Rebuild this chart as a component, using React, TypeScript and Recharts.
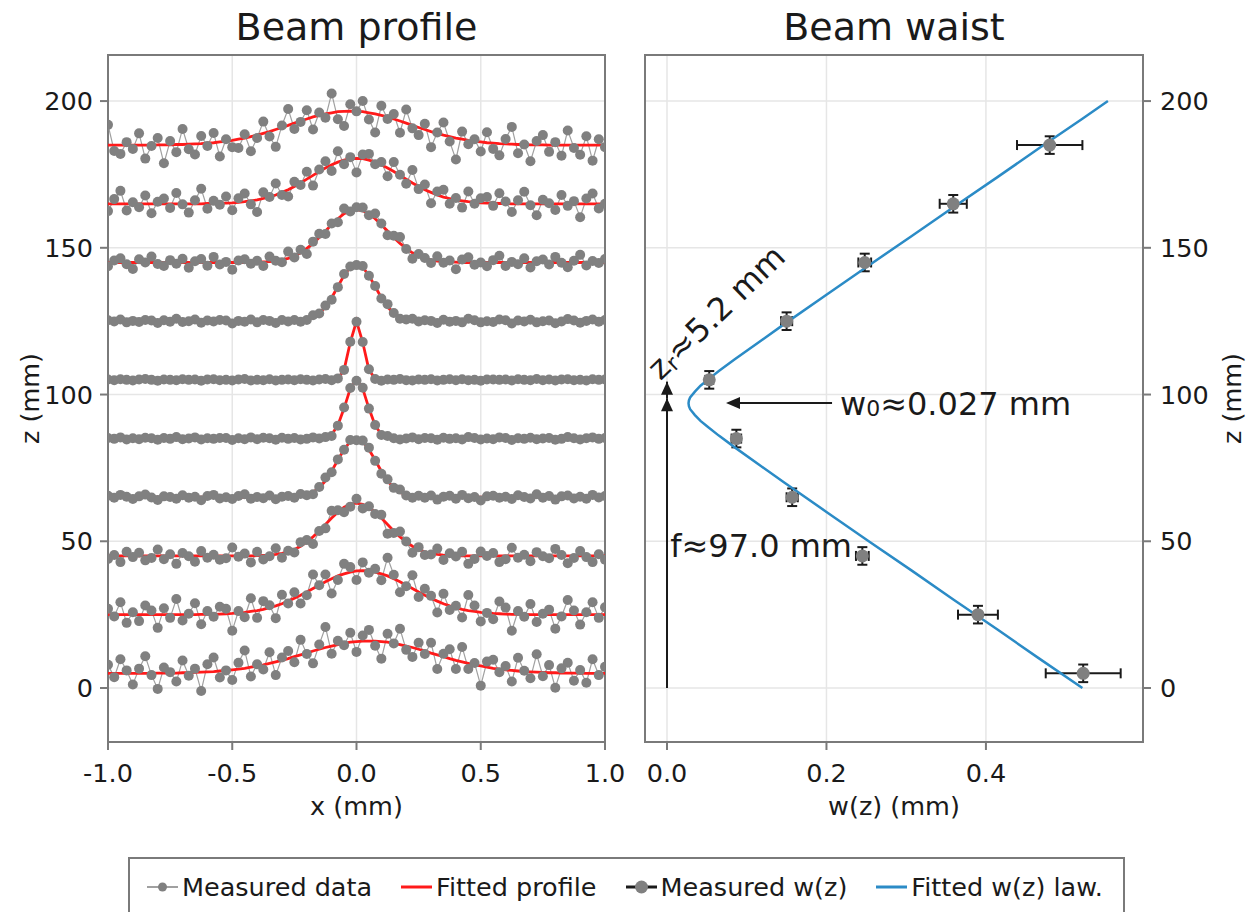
import {
  CartesianGrid,
  ComposedChart,
  ErrorBar,
  Label,
  Line,
  ReferenceArea,
  ReferenceDot,
  ReferenceLine,
  Scatter,
  XAxis,
  YAxis,
} from 'recharts';

const FONT = '"DejaVu Sans", Verdana, sans-serif';
const INK = '#1a1a1a';
const FRAME = '#7a7a7a';
const GRID = '#e6e6e6';
const DOT_GRAY = '#808080';
const LINK_GRAY = '#a0a0a0';
const RED = '#ff1a1a';
const BLUE = '#2b8bc6';
const FS = 25.5;

// ---- left panel: beam profiles ----
const X_GRID = [
  -1, -0.975, -0.95, -0.925, -0.9, -0.875, -0.85, -0.825, -0.8, -0.775,
  -0.75, -0.725, -0.7, -0.675, -0.65, -0.625, -0.6, -0.575, -0.55, -0.525,
  -0.5, -0.475, -0.45, -0.425, -0.4, -0.375, -0.35, -0.325, -0.3, -0.275,
  -0.25, -0.225, -0.2, -0.175, -0.15, -0.125, -0.1, -0.075, -0.05, -0.025,
  0, 0.025, 0.05, 0.075, 0.1, 0.125, 0.15, 0.175, 0.2, 0.225,
  0.25, 0.275, 0.3, 0.325, 0.35, 0.375, 0.4, 0.425, 0.45, 0.475,
  0.5, 0.525, 0.55, 0.575, 0.6, 0.625, 0.65, 0.675, 0.7, 0.725,
  0.75, 0.775, 0.8, 0.825, 0.85, 0.875, 0.9, 0.925, 0.95, 0.975,
  1,
];

const MEAS_Z5 = [
  7.9, 3.7, 9.8, 6.0, 1.2, 6.6, 10.8, 4.4, -0.3, 7.0,
  5.4, 2.2, 9.4, 4.2, 6.6, -1.0, 8.1, 10.4, 3.6, 6.0,
  2.7, 8.6, 12.8, 3.9, 8.1, 6.3, 12.2, 4.4, 10.4, 12.6,
  8.8, 16.4, 11.6, 8.4, 14.8, 20.8, 11.7, 16.1, 14.6, 18.8,
  12.3, 17.9, 19.8, 14.4, 10.0, 18.5, 15.2, 20.2, 13.0, 10.6,
  15.4, 11.6, 15.4, 6.5, 11.7, 13.2, 6.5, 14.0, 6.5, 8.5,
  0.8, 9.0, 9.6, 5.4, 7.5, 2.2, 10.3, 5.9, 3.3, 11.5,
  4.0, 7.8, 0.1, 6.7, 8.6, 2.5, 6.1, 1.8, 9.8, 4.4,
  7.2,
];
const FIT_Z5 = [
  5.0, 5.0, 5.0, 5.0, 5.0, 5.0, 5.0, 5.0, 5.1, 5.1,
  5.1, 5.1, 5.2, 5.2, 5.3, 5.4, 5.5, 5.6, 5.8, 6.0,
  6.2, 6.4, 6.7, 7.1, 7.5, 7.9, 8.4, 8.9, 9.4, 10.0,
  10.7, 11.3, 11.9, 12.6, 13.2, 13.8, 14.3, 14.8, 15.2, 15.6,
  15.8, 16.0, 16.0, 16.0, 15.8, 15.6, 15.2, 14.8, 14.3, 13.8,
  13.2, 12.6, 11.9, 11.3, 10.7, 10.0, 9.4, 8.9, 8.4, 7.9,
  7.5, 7.1, 6.7, 6.4, 6.2, 6.0, 5.8, 5.6, 5.5, 5.4,
  5.3, 5.2, 5.2, 5.1, 5.1, 5.1, 5.1, 5.0, 5.0, 5.0,
  5.0,
];

const MEAS_Z25 = [
  27.0, 24.4, 29.2, 22.2, 25.8, 22.8, 28.1, 26.4, 20.5, 27.2,
  23.9, 30.3, 23.0, 25.3, 28.9, 21.7, 26.2, 24.3, 27.7, 27.0,
  19.5, 26.2, 24.1, 30.6, 23.9, 29.6, 28.2, 23.8, 31.8, 28.8,
  32.6, 28.8, 31.6, 38.7, 35.0, 38.7, 32.2, 36.8, 42.3, 41.2,
  36.8, 42.8, 39.3, 40.6, 36.7, 44.4, 38.6, 32.6, 34.7, 38.4,
  31.0, 33.8, 31.4, 25.7, 32.1, 26.6, 28.0, 24.0, 31.7, 28.1,
  22.7, 25.6, 23.4, 29.5, 27.4, 19.5, 26.2, 24.3, 28.6, 22.5,
  25.3, 26.7, 20.2, 24.4, 30.0, 26.4, 21.6, 25.8, 29.2, 23.9,
  27.5,
];
const FIT_Z25 = [
  25, 25, 25, 25, 25, 25, 25, 25, 25, 25,
  25, 25, 25, 25, 25, 25.1, 25.1, 25.1, 25.2, 25.3,
  25.4, 25.6, 25.8, 26.1, 26.4, 26.8, 27.4, 28.0, 28.7, 29.6,
  30.6, 31.6, 32.7, 33.9, 35.0, 36.2, 37.2, 38.2, 38.9, 39.5,
  39.9, 40.0, 39.9, 39.5, 38.9, 38.2, 37.2, 36.2, 35.0, 33.9,
  32.7, 31.6, 30.6, 29.6, 28.7, 28.0, 27.4, 26.8, 26.4, 26.1,
  25.8, 25.6, 25.4, 25.3, 25.2, 25.1, 25.1, 25.1, 25, 25,
  25, 25, 25, 25, 25, 25, 25, 25, 25, 25,
  25,
];

const MEAS_Z45 = [
  44.0, 45.3, 42.9, 46.4, 44.6, 46.1, 43.5, 44.3, 47.2, 43.9,
  45.6, 42.3, 46.0, 44.9, 43.0, 46.7, 44.4, 45.4, 43.7, 44.2,
  47.9, 44.7, 45.8, 42.8, 46.4, 43.8, 44.9, 47.6, 44.4, 46.8,
  46.2, 49.7, 50.4, 49.1, 53.5, 54.4, 60.4, 60.6, 59.9, 61.8,
  64.5, 61.2, 61.9, 59.3, 59.0, 52.6, 52.8, 53.3, 49.9, 46.1,
  48.0, 45.3, 45.5, 47.5, 43.6, 45.9, 44.8, 46.4, 42.3, 44.0,
  46.5, 45.0, 46.0, 42.9, 43.9, 47.8, 44.4, 45.4, 43.2, 46.3,
  44.9, 44.2, 47.4, 45.3, 42.5, 44.3, 46.7, 44.6, 42.9, 45.6,
  43.7,
];
const FIT_Z45 = [
  45, 45, 45, 45, 45, 45, 45, 45, 45, 45,
  45, 45, 45, 45, 45, 45, 45, 45, 45, 45,
  45, 45, 45, 45, 45.1, 45.2, 45.3, 45.5, 45.9, 46.4,
  47.2, 48.3, 49.8, 51.5, 53.5, 55.7, 57.9, 59.9, 61.6, 62.6,
  63.0, 62.6, 61.6, 59.9, 57.9, 55.7, 53.5, 51.5, 49.8, 48.3,
  47.2, 46.4, 45.9, 45.5, 45.3, 45.2, 45.1, 45, 45, 45,
  45, 45, 45, 45, 45, 45, 45, 45, 45, 45,
  45, 45, 45, 45, 45, 45, 45, 45, 45, 45,
  45,
];

const MEAS_Z65 = [
  65.5, 64.8, 65.8, 65.2, 64.4, 65.3, 65.9, 64.9, 64.1, 65.3,
  65.1, 64.5, 65.7, 64.8, 65.2, 64.0, 65.4, 65.8, 64.6, 65.0,
  64.4, 65.4, 66.0, 64.5, 65.1, 64.7, 65.6, 64.3, 65.2, 65.4,
  64.8, 66.1, 65.7, 66.0, 68.5, 71.7, 73.5, 77.9, 81.2, 84.5,
  84.4, 84.3, 81.9, 77.4, 73.0, 71.1, 68.2, 67.6, 65.6, 64.8,
  65.5, 64.8, 65.6, 64.2, 65.2, 65.5, 64.5, 65.8, 64.7, 65.1,
  63.9, 65.3, 65.5, 64.8, 65.2, 64.4, 65.7, 65.1, 64.6, 66.0,
  64.8, 65.4, 64.2, 65.3, 65.6, 64.6, 65.2, 64.5, 65.8, 64.9,
  65.4,
];
const FIT_Z65 = [
  65, 65, 65, 65, 65, 65, 65, 65, 65, 65,
  65, 65, 65, 65, 65, 65, 65, 65, 65, 65,
  65, 65, 65, 65, 65, 65, 65, 65, 65, 65,
  65.1, 65.3, 65.8, 66.7, 68.2, 70.6, 73.9, 77.7, 81.3, 84.0,
  85.0, 84.0, 81.3, 77.7, 73.9, 70.6, 68.2, 66.7, 65.8, 65.3,
  65.1, 65, 65, 65, 65, 65, 65, 65, 65, 65,
  65, 65, 65, 65, 65, 65, 65, 65, 65, 65,
  65, 65, 65, 65, 65, 65, 65, 65, 65, 65,
  65,
];

const MEAS_Z85 = [
  85.2, 84.9, 85.4, 84.7, 85.1, 84.8, 85.3, 85.1, 84.6, 85.2,
  84.9, 85.5, 84.8, 85.0, 85.4, 84.7, 85.1, 84.9, 85.2, 85.2,
  84.5, 85.1, 84.8, 85.4, 84.8, 85.3, 85.1, 84.6, 85.3, 84.9,
  85.2, 84.7, 84.9, 85.4, 85.0, 85.5, 85.9, 89.4, 95.6, 102.2,
  104.7, 102.3, 95.2, 89.6, 86.2, 85.9, 85.1, 84.7, 85.0, 85.4,
  84.8, 85.2, 85.1, 84.6, 85.3, 84.9, 85.1, 84.7, 85.5, 85.2,
  84.7, 85.0, 84.8, 85.4, 85.2, 84.5, 85.1, 84.9, 85.3, 84.8,
  85.0, 85.2, 84.6, 84.9, 85.5, 85.1, 84.7, 85.1, 85.4, 84.9,
  85.2,
];
const FIT_Z85 = [
  85, 85, 85, 85, 85, 85, 85, 85, 85, 85,
  85, 85, 85, 85, 85, 85, 85, 85, 85, 85,
  85, 85, 85, 85, 85, 85, 85, 85, 85, 85,
  85, 85, 85, 85, 85, 85.3, 86.4, 89.5, 95.3, 102.0,
  105.0, 102.0, 95.3, 89.5, 86.4, 85.3, 85, 85, 85, 85,
  85, 85, 85, 85, 85, 85, 85, 85, 85, 85,
  85, 85, 85, 85, 85, 85, 85, 85, 85, 85,
  85, 85, 85, 85, 85, 85, 85, 85, 85, 85,
  85,
];

const MEAS_Z105 = [
  105.1, 104.9, 105.2, 105.0, 104.8, 105.1, 105.3, 105.0, 104.7, 105.1,
  105.0, 104.9, 105.2, 105.0, 105.1, 104.7, 105.1, 105.2, 104.9, 105.0,
  104.8, 105.1, 105.3, 104.8, 105.0, 104.9, 105.2, 104.8, 105.0, 105.1,
  104.9, 105.2, 105.0, 104.8, 105.1, 105.3, 104.9, 105.5, 108.4, 118.0,
  124.8, 117.9, 108.6, 105.3, 104.7, 105.1, 105.0, 105.3, 104.9, 104.8,
  105.1, 105.0, 105.2, 104.8, 105.0, 105.2, 104.9, 105.2, 104.9, 105.0,
  104.7, 105.1, 105.1, 105.0, 105.1, 104.8, 105.2, 105.0, 104.9, 105.3,
  104.9, 105.1, 104.8, 105.1, 105.2, 104.9, 105.0, 104.8, 105.2, 105.0,
  105.1,
];
const FIT_Z105 = [
  105, 105, 105, 105, 105, 105, 105, 105, 105, 105,
  105, 105, 105, 105, 105, 105, 105, 105, 105, 105,
  105, 105, 105, 105, 105, 105, 105, 105, 105, 105,
  105, 105, 105, 105, 105, 105, 105, 105.4, 108.4, 117.8,
  125.0, 117.8, 108.4, 105.4, 105, 105, 105, 105, 105, 105,
  105, 105, 105, 105, 105, 105, 105, 105, 105, 105,
  105, 105, 105, 105, 105, 105, 105, 105, 105, 105,
  105, 105, 105, 105, 105, 105, 105, 105, 105, 105,
  105,
];

const MEAS_Z125 = [
  125.3, 124.9, 125.6, 124.6, 125.1, 124.7, 125.4, 125.2, 124.4, 125.3,
  124.8, 125.8, 124.7, 125.0, 125.6, 124.5, 125.2, 124.9, 125.4, 125.2,
  124.2, 125.1, 124.8, 125.6, 124.6, 125.4, 125.1, 124.4, 125.4, 124.9,
  125.4, 124.8, 125.4, 127.0, 127.6, 130.3, 132.3, 136.6, 141.1, 143.6,
  144.1, 143.8, 140.5, 137.0, 132.7, 130.8, 127.8, 125.8, 125.6, 125.8,
  124.9, 125.3, 125.1, 124.4, 125.5, 124.8, 125.1, 124.6, 125.8, 125.3,
  124.6, 125.0, 124.7, 125.6, 125.3, 124.2, 125.2, 124.9, 125.5, 124.6,
  125.0, 125.2, 124.3, 124.9, 125.7, 125.2, 124.5, 125.1, 125.6, 124.8,
  125.4,
];
const FIT_Z125 = [
  125, 125, 125, 125, 125, 125, 125, 125, 125, 125,
  125, 125, 125, 125, 125, 125, 125, 125, 125, 125,
  125, 125, 125, 125, 125, 125, 125, 125, 125, 125,
  125.1, 125.2, 125.6, 126.3, 127.6, 129.9, 133.0, 136.8, 140.6, 143.4,
  144.5, 143.4, 140.6, 136.8, 133.0, 129.9, 127.6, 126.3, 125.6, 125.2,
  125.1, 125, 125, 125, 125, 125, 125, 125, 125, 125,
  125, 125, 125, 125, 125, 125, 125, 125, 125, 125,
  125, 125, 125, 125, 125, 125, 125, 125, 125, 125,
  125,
];

const MEAS_Z145 = [
  143.7, 145.7, 146.4, 144.4, 142.8, 146.1, 145.0, 147.0, 144.5, 143.8,
  145.8, 144.6, 146.3, 143.2, 145.4, 146.2, 143.9, 146.9, 144.3, 145.2,
  142.5, 145.7, 146.1, 144.6, 145.6, 143.8, 147.0, 145.6, 145.1, 148.7,
  146.7, 149.3, 147.9, 152.1, 154.8, 154.7, 158.3, 158.7, 163.4, 162.4,
  163.8, 163.7, 161.1, 161.7, 158.3, 154.3, 154.1, 153.7, 149.6, 146.3,
  147.9, 146.5, 144.8, 147.1, 144.9, 145.7, 142.7, 146.0, 146.8, 144.2,
  145.0, 143.7, 145.8, 147.3, 143.8, 145.2, 144.4, 146.4, 143.3, 145.4,
  146.0, 144.3, 146.9, 144.9, 143.4, 145.6, 147.6, 144.0, 145.5, 144.8,
  146.2,
];
const FIT_Z145 = [
  145, 145, 145, 145, 145, 145, 145, 145, 145, 145,
  145, 145, 145, 145, 145, 145, 145, 145, 145, 145,
  145, 145, 145, 145, 145.1, 145.2, 145.3, 145.5, 145.9, 146.4,
  147.2, 148.3, 149.8, 151.5, 153.5, 155.7, 157.9, 159.9, 161.6, 162.6,
  163.0, 162.6, 161.6, 159.9, 157.9, 155.7, 153.5, 151.5, 149.8, 148.3,
  147.2, 146.4, 145.9, 145.5, 145.3, 145.2, 145.1, 145, 145, 145,
  145, 145, 145, 145, 145, 145, 145, 145, 145, 145,
  145, 145, 145, 145, 145, 145, 145, 145, 145, 145,
  145,
];

const MEAS_Z165 = [
  162.5, 166.6, 169.4, 162.7, 165.5, 163.8, 167.8, 161.8, 165.7, 166.8,
  163.6, 168.7, 164.8, 162.0, 166.2, 170.1, 163.3, 166.0, 164.7, 167.5,
  162.8, 166.9, 168.5, 164.8, 162.2, 168.9, 167.3, 171.9, 168.0, 167.5,
  172.5, 171.4, 175.9, 171.2, 176.7, 179.5, 176.2, 182.9, 178.5, 180.9,
  175.7, 181.8, 182.0, 178.5, 179.2, 174.4, 179.2, 174.9, 171.8, 176.5,
  170.0, 171.6, 165.2, 169.2, 169.8, 165.0, 167.0, 163.7, 169.2, 165.0,
  166.9, 167.3, 164.3, 168.6, 165.8, 162.2, 166.2, 169.1, 164.5, 161.1,
  166.4, 165.2, 162.9, 168.0, 164.3, 165.9, 160.4, 166.8, 168.5, 163.4,
  165.0,
];
const FIT_Z165 = [
  165, 165, 165, 165, 165, 165, 165, 165, 165, 165,
  165, 165, 165, 165, 165, 165, 165.1, 165.1, 165.2, 165.2,
  165.3, 165.5, 165.7, 166.0, 166.3, 166.8, 167.3, 168.0, 168.9, 169.8,
  170.9, 172.1, 173.4, 174.7, 176.0, 177.2, 178.3, 179.2, 179.9, 180.4,
  180.5, 180.4, 179.9, 179.2, 178.3, 177.2, 176.0, 174.7, 173.4, 172.1,
  170.9, 169.8, 168.9, 168.0, 167.3, 166.8, 166.3, 166.0, 165.7, 165.5,
  165.3, 165.2, 165.2, 165.1, 165.1, 165, 165, 165, 165, 165,
  165, 165, 165, 165, 165, 165, 165, 165, 165, 165,
  165,
];

const MEAS_Z185 = [
  191.9, 183.0, 182.0, 186.0, 183.7, 189.0, 180.4, 184.7, 187.4, 178.8,
  186.4, 182.6, 190.5, 183.6, 181.8, 188.1, 184.7, 189.1, 181.1, 187.0,
  184.3, 184.0, 188.7, 182.9, 187.4, 193.0, 187.9, 184.4, 191.7, 197.3,
  190.5, 192.9, 196.9, 190.3, 196.1, 194.3, 202.6, 193.8, 191.5, 198.9,
  196.5, 200.0, 193.7, 189.3, 198.4, 193.9, 195.6, 189.2, 197.1, 190.7,
  188.4, 192.3, 184.3, 189.3, 192.7, 186.2, 180.1, 189.6, 185.3, 187.0,
  182.8, 189.4, 183.7, 181.5, 187.1, 191.2, 182.2, 185.2, 179.5, 186.4,
  188.4, 182.7, 186.0, 181.4, 190.0, 184.0, 181.7, 188.0, 179.7, 187.0,
  184.3,
];
const FIT_Z185 = [
  185, 185, 185, 185, 185, 185, 185, 185, 185.1, 185.1,
  185.1, 185.2, 185.2, 185.3, 185.4, 185.5, 185.7, 185.8, 186.1, 186.3,
  186.6, 187.0, 187.4, 187.9, 188.4, 189.0, 189.6, 190.3, 191.0, 191.7,
  192.5, 193.2, 193.9, 194.6, 195.1, 195.6, 196.0, 196.4, 196.5, 196.6,
  196.5, 196.4, 196.0, 195.6, 195.1, 194.6, 193.9, 193.2, 192.5, 191.7,
  191.0, 190.3, 189.6, 189.0, 188.4, 187.9, 187.4, 187.0, 186.6, 186.3,
  186.1, 185.8, 185.7, 185.5, 185.4, 185.3, 185.2, 185.2, 185.1, 185.1,
  185.1, 185, 185, 185, 185, 185, 185, 185, 185, 185,
  185,
];

const PROFILES = [
  { meas: MEAS_Z5, fit: FIT_Z5 },
  { meas: MEAS_Z25, fit: FIT_Z25 },
  { meas: MEAS_Z45, fit: FIT_Z45 },
  { meas: MEAS_Z65, fit: FIT_Z65 },
  { meas: MEAS_Z85, fit: FIT_Z85 },
  { meas: MEAS_Z105, fit: FIT_Z105 },
  { meas: MEAS_Z125, fit: FIT_Z125 },
  { meas: MEAS_Z145, fit: FIT_Z145 },
  { meas: MEAS_Z165, fit: FIT_Z165 },
  { meas: MEAS_Z185, fit: FIT_Z185 },
];

const X_TICKS = [-1, -0.5, 0, 0.5, 1];
const Z_TICKS = [0, 50, 100, 150, 200];
const Z_DOMAIN: [number, number] = [-18.4, 215.7];

// ---- right panel: beam waist ----
const LAW_Z = [
  0, 10, 20, 30, 40, 50, 60, 70, 76, 82, 86, 89, 91, 93, 95, 96, 97,
  98, 99, 101, 103, 105, 108, 112, 118, 124, 134, 144, 154, 164, 174, 184, 194, 200,
];
const LAW_W = [
  0.521, 0.467, 0.414, 0.36, 0.307, 0.253, 0.2, 0.147, 0.116, 0.085, 0.065, 0.051, 0.042, 0.035, 0.029, 0.0275, 0.027,
  0.0275, 0.029, 0.035, 0.042, 0.051, 0.065, 0.085, 0.116, 0.147, 0.2, 0.253, 0.307, 0.36, 0.414, 0.467, 0.521, 0.553,
];

const WZ_Z = [5, 25, 45, 65, 85, 105, 125, 145, 165, 185];
const WZ_W = [0.522, 0.39, 0.245, 0.157, 0.087, 0.053, 0.15, 0.248, 0.359, 0.48];
const WZ_W_ERR = [0.047, 0.025, 0.008, 0.007, 0.006, 0.005, 0.007, 0.008, 0.017, 0.041];
const WZ_Z_ERR = [3, 3, 3, 3, 3, 3, 3, 3, 3, 3];

const W_TICKS = [0, 0.2, 0.4];
const W_DOMAIN: [number, number] = [-0.0276, 0.597];

const FOCUS_Z = 98.7;
const RAYLEIGH_TIP_Z = 104.4;
const WAIST_ARROW = { from: 0.207, to: 0.074, z: 97.1 };

const profileRows = (vals: number[]) => X_GRID.map((x, i) => ({ x, z: vals[i] }));
const lawRows = LAW_Z.map((z, i) => ({ w: LAW_W[i], z }));
const wzRows = WZ_Z.map((z, i) => ({ w: WZ_W[i], z, werr: WZ_W_ERR[i], zerr: WZ_Z_ERR[i] }));

const tickStyle = { fontSize: FS, fill: INK, fontFamily: FONT };
const labelStyle = { fontSize: FS, fontFamily: FONT, textAnchor: 'middle' as const };

function arrowUp(p: any) {
  return <polygon points={`${p.cx},${p.cy} ${p.cx - 6},${p.cy + 13} ${p.cx + 6},${p.cy + 13}`} fill={INK} />;
}

function arrowLeft(p: any) {
  return <polygon points={`${p.cx},${p.cy} ${p.cx + 14},${p.cy - 6} ${p.cx + 14},${p.cy + 6}`} fill={INK} />;
}

function ProfileChart() {
  return (
    <ComposedChart width={640} height={840} margin={{ top: 55, right: 35, bottom: 18, left: 8 }}>
      <CartesianGrid stroke={GRID} strokeWidth={1.5} />
      <XAxis
        type="number"
        dataKey="x"
        domain={[-1, 1]}
        ticks={X_TICKS}
        interval={0}
        allowDataOverflow
        tickFormatter={(v: number) => v.toFixed(1)}
        height={80}
        tickSize={8}
        tickMargin={14}
        axisLine={false}
        tickLine={{ stroke: FRAME, strokeWidth: 2 }}
        tick={tickStyle}
      >
        <Label value="x (mm)" position="insideBottom" offset={7} fill={INK} style={labelStyle} />
      </XAxis>
      <YAxis
        type="number"
        dataKey="z"
        domain={Z_DOMAIN}
        ticks={Z_TICKS}
        interval={0}
        allowDataOverflow
        width={100}
        tickSize={8}
        tickMargin={7}
        axisLine={false}
        tickLine={{ stroke: FRAME, strokeWidth: 2 }}
        tick={tickStyle}
      >
        <Label value="z (mm)" angle={-90} position="insideLeft" offset={22} fill={INK} style={labelStyle} />
      </YAxis>
      {PROFILES.map((p, k) => (
        <Line
          key={'m' + k}
          data={profileRows(p.meas)}
          dataKey="z"
          type="linear"
          stroke={LINK_GRAY}
          strokeWidth={1.2}
          dot={{ r: 5, fill: DOT_GRAY, stroke: 'none' }}
          activeDot={false}
          isAnimationActive={false}
        />
      ))}
      {PROFILES.map((p, k) => (
        <Line
          key={'f' + k}
          data={profileRows(p.fit)}
          dataKey="z"
          type="linear"
          stroke={RED}
          strokeWidth={2.8}
          dot={false}
          activeDot={false}
          isAnimationActive={false}
        />
      ))}
      <ReferenceArea x1={-1} x2={1} y1={Z_DOMAIN[0]} y2={Z_DOMAIN[1]} fill="none" stroke={FRAME} strokeWidth={2} />
    </ComposedChart>
  );
}

function WaistChart() {
  return (
    <ComposedChart width={630} height={840} margin={{ top: 55, right: 7, bottom: 18, left: 25 }}>
      <CartesianGrid stroke={GRID} strokeWidth={1.5} />
      <XAxis
        type="number"
        dataKey="w"
        domain={W_DOMAIN}
        ticks={W_TICKS}
        interval={0}
        allowDataOverflow
        tickFormatter={(v: number) => v.toFixed(1)}
        height={80}
        tickSize={8}
        tickMargin={14}
        axisLine={false}
        tickLine={{ stroke: FRAME, strokeWidth: 2 }}
        tick={tickStyle}
      >
        <Label value="w(z) (mm)" position="insideBottom" offset={7} fill={INK} style={labelStyle} />
      </XAxis>
      <YAxis
        type="number"
        dataKey="z"
        orientation="right"
        domain={Z_DOMAIN}
        ticks={Z_TICKS}
        interval={0}
        allowDataOverflow
        width={100}
        tickSize={8}
        tickMargin={9}
        axisLine={false}
        tickLine={{ stroke: FRAME, strokeWidth: 2 }}
        tick={tickStyle}
      >
        <Label value="z (mm)" angle={-90} position="insideRight" offset={11} fill={INK} style={labelStyle} />
      </YAxis>

      <ReferenceLine segment={[{ x: 0, y: 0 }, { x: 0, y: FOCUS_Z }]} stroke={INK} strokeWidth={2} ifOverflow="visible" />
      <ReferenceLine segment={[{ x: 0, y: FOCUS_Z }, { x: 0, y: RAYLEIGH_TIP_Z }]} stroke={INK} strokeWidth={2} ifOverflow="visible" />
      <ReferenceDot x={0} y={FOCUS_Z} shape={arrowUp} ifOverflow="visible" />
      <ReferenceDot x={0} y={RAYLEIGH_TIP_Z} shape={arrowUp} ifOverflow="visible" />
      <ReferenceLine
        segment={[{ x: WAIST_ARROW.from, y: WAIST_ARROW.z }, { x: WAIST_ARROW.to + 0.01, y: WAIST_ARROW.z }]}
        stroke={INK}
        strokeWidth={2}
        ifOverflow="visible"
      />
      <ReferenceDot x={WAIST_ARROW.to} y={WAIST_ARROW.z} shape={arrowLeft} ifOverflow="visible" />

      <Scatter
        data={wzRows}
        dataKey="z"
        isAnimationActive={false}
        shape={(p: any) => <circle cx={p.cx} cy={p.cy} r={6.5} fill={DOT_GRAY} />}
      >
        <ErrorBar dataKey="werr" direction="x" width={5} stroke={INK} strokeWidth={2} />
        <ErrorBar dataKey="zerr" direction="y" width={5} stroke={INK} strokeWidth={2} />
      </Scatter>
      <Line
        data={lawRows}
        dataKey="z"
        type="linear"
        stroke={BLUE}
        strokeWidth={2.5}
        dot={false}
        activeDot={false}
        isAnimationActive={false}
      />

      <ReferenceDot
        x={0.217}
        y={93.0}
        ifOverflow="visible"
        shape={(p: any) => (
          <text x={p.cx} y={p.cy} fontSize={32} fontFamily={FONT} fill={INK}>
            w<tspan fontSize={22} dy={1}>0</tspan>
            <tspan dy={-1}>≈0.027 mm</tspan>
          </text>
        )}
      />
      <ReferenceDot
        x={0.004}
        y={44.6}
        ifOverflow="visible"
        shape={(p: any) => (
          <text x={p.cx} y={p.cy} fontSize={32} fontFamily={FONT} fill={INK}>
            f≈97.0 mm
          </text>
        )}
      />
      <ReferenceDot
        x={-0.008}
        y={104.5}
        ifOverflow="visible"
        shape={(p: any) => (
          <text x={p.cx} y={p.cy} fontSize={32} fontFamily={FONT} fill={INK} transform={`rotate(-44 ${p.cx} ${p.cy})`}>
            z<tspan fontSize={22} dy={3}>r</tspan>
            <tspan dy={-3}>≈5.2 mm</tspan>
          </text>
        )}
      />
      <ReferenceArea x1={W_DOMAIN[0]} x2={W_DOMAIN[1]} y1={Z_DOMAIN[0]} y2={Z_DOMAIN[1]} fill="none" stroke={FRAME} strokeWidth={2} />
    </ComposedChart>
  );
}

function LegendKey({ kind }: { kind: string }) {
  return (
    <svg width={33} height={30} style={{ display: 'block', flexShrink: 0 }}>
      {kind === 'meas' && (
        <>
          <line x1={1} y1={15} x2={32} y2={15} stroke={LINK_GRAY} strokeWidth={2} />
          <circle cx={16.5} cy={15} r={4.5} fill={DOT_GRAY} />
        </>
      )}
      {kind === 'fit' && <line x1={1} y1={15} x2={32} y2={15} stroke={RED} strokeWidth={3} />}
      {kind === 'wz' && (
        <>
          <line x1={1} y1={15} x2={32} y2={15} stroke={INK} strokeWidth={3} />
          <circle cx={16.5} cy={15} r={6.5} fill={DOT_GRAY} />
        </>
      )}
      {kind === 'law' && <line x1={1} y1={15} x2={32} y2={15} stroke={BLUE} strokeWidth={3} />}
    </svg>
  );
}

const LEGEND_ITEMS = [
  { kind: 'meas', label: 'Measured data' },
  { kind: 'fit', label: 'Fitted profile' },
  { kind: 'wz', label: 'Measured w(z)' },
  { kind: 'law', label: 'Fitted w(z) law.' },
];

export default function App() {
  return (
    <div
      style={{
        position: 'absolute',
        left: 0,
        top: 0,
        width: 1250,
        height: 912,
        background: '#fff',
        overflow: 'hidden',
        fontFamily: FONT,
        color: INK,
      }}
    >
      <div style={{ position: 'absolute', left: 0, top: 0 }}>
        <ProfileChart />
      </div>
      <div style={{ position: 'absolute', left: 620, top: 0 }}>
        <WaistChart />
      </div>
      <div style={{ position: 'absolute', left: 108, top: 8, width: 497, textAlign: 'center', fontSize: 38, lineHeight: '38px' }}>
        Beam profile
      </div>
      <div style={{ position: 'absolute', left: 645, top: 8, width: 498, textAlign: 'center', fontSize: 38, lineHeight: '38px' }}>
        Beam waist
      </div>
      <div
        style={{
          position: 'absolute',
          left: 128,
          top: 857,
          width: 997,
          height: 90,
          boxSizing: 'border-box',
          border: `2px solid ${FRAME}`,
          display: 'flex',
          alignItems: 'flex-start',
          paddingLeft: 16,
          paddingTop: 13,
        }}
      >
        {LEGEND_ITEMS.map((it) => (
          <div key={it.kind} style={{ display: 'flex', alignItems: 'center', height: 30, marginRight: 28 }}>
            <LegendKey kind={it.kind} />
            <span style={{ marginLeft: 3, fontSize: FS, lineHeight: '30px', whiteSpace: 'nowrap' }}>{it.label}</span>
          </div>
        ))}
      </div>
    </div>
  );
}
